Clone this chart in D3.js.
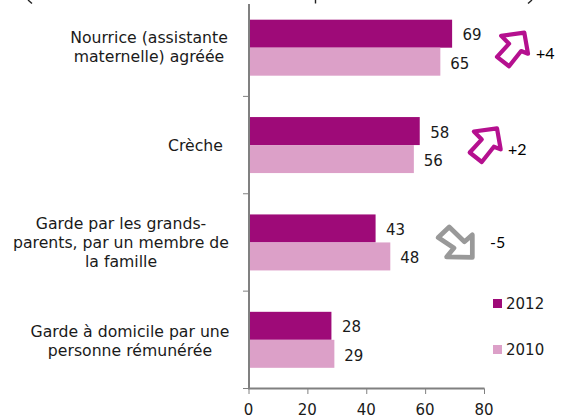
<!DOCTYPE html>
<html><head><meta charset="utf-8">
<script src="https://cdnjs.cloudflare.com/ajax/libs/d3/7.8.5/d3.min.js"></script>
<style>html,body{margin:0;padding:0;background:#fff}svg{display:block}text{font-family:"DejaVu Sans",sans-serif;fill:#1a1a1a}</style>
</head><body><svg id="c" width="563" height="418"></svg>
<script>
const categories=[["Nourrice (assistante","maternelle) agréée"],["Crèche"],["Garde par les grands-","parents, par un membre de","la famille"],["Garde à domicile par une","personne rémunérée"]];
const values2012=[69,58,43,28];
const values2010=[65,56,48,29];
const changes=["+4","+2","-5"];
const xTicks=[0,20,40,60,80];
const seriesNames=["2012","2010"];
const svg=d3.select("#c");
const x=d3.scaleLinear().domain([0,80]).range([249,484.5]);
const y=d3.scaleBand().domain(d3.range(4)).range([-1,388.5]);
const g=svg.append("g");
const c12="#9e0a78",c10="#dca0c8",gray="#808080";
const bh=28;
const labelX=[149,195.5,121,130];
const labelDy=[0,1,0.5,1.5];
// the reference's title is cropped by the top edge: only these ink remnants show
["M28,0L32,3.5","M315.5,0V3.5","M532,0L528,3.5"].forEach(d=>g.append("path").attr("d",d).attr("fill","none").attr("stroke","#222").attr("stroke-width",1.4));
d3.range(4).forEach(i=>{
  const cy=y(i)+y.bandwidth()/2;
  g.append("rect").attr("x",x(0)).attr("y",cy-bh).attr("width",x(values2012[i])-x(0)).attr("height",bh).attr("fill",c12);
  g.append("rect").attr("x",x(0)).attr("y",cy).attr("width",x(values2010[i])-x(0)).attr("height",bh).attr("fill",c10);
  g.append("text").attr("x",x(values2012[i])+20).attr("y",cy-14+6.5).attr("text-anchor","middle").attr("font-size",15).text(values2012[i]);
  g.append("text").attr("x",x(values2010[i])+19.5).attr("y",cy+14+7).attr("text-anchor","middle").attr("font-size",15).text(values2010[i]);
  const ls=categories[i];
  ls.forEach((l,k)=>g.append("text").attr("x",labelX[i]).attr("y",cy+(k-(ls.length-1)/2)*18.8+5+labelDy[i]).attr("text-anchor","middle").attr("font-size",15.7).text(l));
});
g.append("path").attr("d",`M${x(0)},4V388.5H${x(80)}`).attr("fill","none").attr("stroke",gray).attr("stroke-width",2);
d3.range(1,5).forEach(i=>{const yy=y(i-1)+y.bandwidth();g.append("line").attr("x1",243).attr("x2",249).attr("y1",yy).attr("y2",yy).attr("stroke",gray);});
xTicks.forEach(t=>{
  g.append("line").attr("x1",x(t)).attr("x2",x(t)).attr("y1",388.5).attr("y2",394).attr("stroke",gray);
  g.append("text").attr("x",x(t)-0.5).attr("y",415).attr("text-anchor","middle").attr("font-size",15).text(t);
});
const up="M-10,-13.5L12,-16.5L15.5,3.5L9,1L-2.5,15.5L-14,6.5L-2.5,-6Z";
const down="M16.5,-6.5L16.5,15L-8,14.5L-1,6L-16,-4L-5.5,-14L9,0Z";
[[up,511.7,50,"#b5108f",4],[up,484.4,145.7,"#b5108f",4],[down,455,241.7,"#999999",4.5]].forEach(a=>{
  g.append("path").attr("d",a[0]).attr("transform",`translate(${a[1]},${a[2]}) scale(1.05)`).attr("fill","#fff").attr("stroke",a[3]).attr("stroke-width",a[4]).attr("stroke-linejoin","round");
});
[[536,58.5],[508,155],[490,248]].forEach((p,i)=>g.append("text").attr("x",p[0]).attr("y",p[1]).style("font-family","Lato").attr("font-size",16).style("fill","#000").text(changes[i]));
[[c12,303.5],[c10,349.5]].forEach((d,i)=>{
  g.append("rect").attr("x",493).attr("y",d[1]-4.5).attr("width",9).attr("height",9).attr("fill",d[0]);
  g.append("text").attr("x",506).attr("y",d[1]+5).attr("font-size",15).text(seriesNames[i]);
});
</script></body></html>
